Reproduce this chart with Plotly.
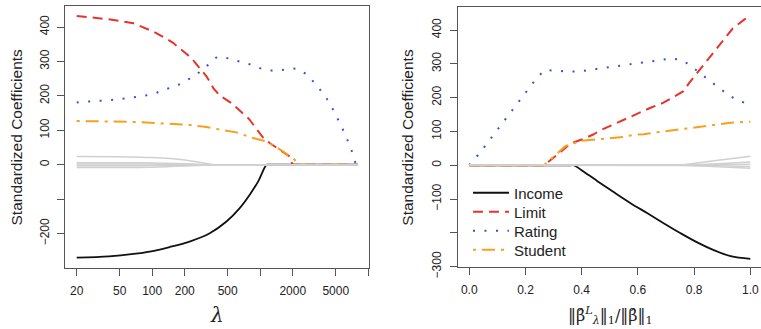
import plotly.graph_objects as go

# ---------------- data ----------------
# Left panel: coefficients vs lambda (log scale)
lam_income = [20, 40, 67, 95, 145, 222, 341, 487, 646, 800, 955, 1143, 1180, 8000]
income_l = [-270, -266, -259, -252, -239, -223, -199, -165, -126, -87, -49, 0, 0, 0]

lam_limit = [20, 41, 67, 85, 102, 135, 156, 200, 231, 279, 318, 371, 422, 541, 632,
             787, 889, 1062, 1224, 1413, 1876, 1990, 8000]
limit_l = [432, 422, 411, 397, 387, 366, 354, 326, 310, 278, 257, 221, 201, 179, 160,
           133, 111, 79, 63, 49, 24, 0, 0]

lam_rating = [20, 26, 32, 41, 52, 67, 87, 111, 141, 177, 222, 271, 329, 398, 504, 641,
              816, 1026, 1306, 1676, 2146, 2655, 3155, 3711, 4278, 4830, 5372, 5976,
              6600, 7190, 7700, 8000]
rating_l = [181, 183, 186, 188, 191, 195, 201, 210, 221, 233, 250, 268, 290, 313, 309, 300,
            291, 279, 273, 276, 280, 264, 239, 212, 185, 155, 126, 95,
            63, 32, 0, 0]

lam_student = [20, 40, 77, 105, 156, 215, 306, 422, 602, 830, 1140, 1570, 2089, 2160, 8000]
student_l = [127, 126, 124, 121, 119, 116, 110, 102, 94, 79, 68, 42, 14, 0, 0]

lam_other = [20, 50, 100, 200, 300, 370, 400, 8000]
others_l = [
    [24, 23, 21, 14, 5, 0, 0, 0],
    [6, 6, 5, 3, 1, 0, 0, 0],
    [2, 2, 1.8, 1, 0.3, 0, 0, 0],
    [-3, -3, -2.5, -1.5, -0.5, 0, 0, 0],
    [-8, -8, -7, -4, -1.5, 0, 0, 0],
]

# Right panel: coefficients vs ||beta_lambda||_1 / ||beta||_1
s_income = [0, 0.36, 0.373, 0.397, 0.456, 0.515, 0.574, 0.634, 0.693, 0.752, 0.811, 0.870, 0.930, 1.0]
income_r = [0, 0, 0, -13, -47, -80, -112, -142, -172, -201, -228, -251, -269, -277]

s_limit = [0, 0.266, 0.314, 0.361, 0.403, 0.441, 0.468, 0.503, 0.539, 0.568, 0.612, 0.645,
           0.691, 0.719, 0.762, 0.782, 0.811, 0.833, 0.862, 0.885, 0.915, 0.938, 0.977, 1.0]
limit_r = [0, 0, 32, 65, 77, 91, 104, 117, 130, 142, 157, 170,
           185, 198, 219, 243, 273, 298, 328, 353, 384, 405, 430, 444]

s_rating = [0, 0.038, 0.089, 0.139, 0.191, 0.24, 0.269, 0.31, 0.353, 0.394, 0.436, 0.477,
            0.517, 0.559, 0.599, 0.642, 0.682, 0.722, 0.760, 0.795, 0.826, 0.860, 0.893,
            0.926, 0.963, 1.0]
rating_r = [0, 37, 93, 148, 203, 258, 282, 280, 277, 278, 283, 286,
            292, 297, 301, 306, 311, 316, 310, 290, 269, 247, 226,
            205, 190, 179]

s_student = [0, 0.266, 0.302, 0.343, 0.397, 0.468, 0.509, 0.548, 0.586, 0.621, 0.663, 0.704,
             0.737, 0.775, 0.816, 0.848, 0.887, 0.930, 0.963, 1.0]
student_r = [0, 0, 27, 57, 72, 77, 80, 84, 90, 92, 97, 102,
             105, 109, 113, 116, 121, 126, 128, 129]

s_other = [0, 0.75, 0.85, 0.95, 1.0]
others_r = [
    [0, 0, 11, 22, 27],
    [0, 0, 3, 8, 10],
    [0, 0, 1, 2, 3],
    [0, 0, -1, -3, -4],
    [0, 0, -3, -7, -9],
]

# ticks
lam_tickvals = [20, 50, 100, 200, 500, 1000, 2000, 5000, 10000]
lam_ticktext = ["20", "50", "100", "200", "500", "", "2000", "5000", ""]
s_tickvals = [0, 0.2, 0.4, 0.6, 0.8, 1.0]
s_ticktext = ["0.0", "0.2", "0.4", "0.6", "0.8", "1.0"]
yl_tickvals = [-200, -100, 0, 100, 200, 300, 400]
yl_ticktext = ["\u2212200", "", "0", "100", "200", "300", "400"]
yr_tickvals = [-300, -200, -100, 0, 100, 200, 300, 400]
yr_ticktext = ["\u2212300", "", "\u2212100", "0", "100", "200", "300", "400"]

series_names = ["Income", "Limit", "Rating", "Student"]

# ---------------- styles ----------------
FONT = "Liberation Sans, Arial, Helvetica, sans-serif"
SERIF = "DejaVu Serif, Liberation Serif, serif"
AX = "#555555"
TXT = "#222222"
W, H = 761, 329

styles = {
    "Income": dict(color="#111111", dash="solid", width=1.8),
    "Limit": dict(color="#E5352B", dash="10px,6px", width=2),
    "Rating": dict(color="#3B50D0", dash="2px,9.5px", width=2),
    "Student": dict(color="#F5A01E", dash="3px,6px,13px,6px", width=2),
}
smooth = {"Income": "spline", "Limit": "linear", "Rating": "linear", "Student": "linear"}
GRAY = dict(color="#D0D0D0", width=1.5)

fig = go.Figure()

left = {"Income": (lam_income, income_l), "Limit": (lam_limit, limit_l),
        "Rating": (lam_rating, rating_l), "Student": (lam_student, student_l)}
right = {"Income": (s_income, income_r), "Limit": (s_limit, limit_r),
         "Rating": (s_rating, rating_r), "Student": (s_student, student_r)}

for nm in series_names:
    x, y = left[nm]
    fig.add_trace(go.Scatter(x=x, y=y, mode="lines", line=dict(styles[nm], shape=smooth[nm]),
                             name=nm, xaxis="x", yaxis="y", showlegend=False, hoverinfo="skip"))
for vals in others_l:
    fig.add_trace(go.Scatter(x=lam_other, y=vals, mode="lines", line=dict(GRAY, shape="spline"),
                             xaxis="x", yaxis="y", showlegend=False, hoverinfo="skip"))
legend_ids = ["legend", "legend2", "legend3", "legend4"]
for nm, lg in zip(series_names, legend_ids):
    x, y = right[nm]
    fig.add_trace(go.Scatter(x=x, y=y, mode="lines", line=dict(styles[nm], shape=smooth[nm]),
                             name=nm, xaxis="x2", yaxis="y2", showlegend=True, legend=lg,
                             hoverinfo="skip"))
for vals in others_r:
    fig.add_trace(go.Scatter(x=s_other, y=vals, mode="lines", line=GRAY,
                             xaxis="x2", yaxis="y2", showlegend=False, hoverinfo="skip"))


def px_x(p):
    return p / W


def px_y(p):
    return (H - p) / H


common = dict(showgrid=False, zeroline=False, showline=True, linecolor=AX, linewidth=1,
              ticks="outside", ticklen=7, tickcolor=AX, tickwidth=1, automargin=False,
              tickfont=dict(family=FONT, size=12, color=TXT))

legend_style = dict(xanchor="left", yanchor="middle", bgcolor="rgba(0,0,0,0)", borderwidth=0,
                    font=dict(family=FONT, size=15, color=TXT), itemwidth=36)
legend_rows = [193, 212, 231, 250]

layout_legends = {}
for lg, row in zip(legend_ids, legend_rows):
    layout_legends[lg] = dict(legend_style, x=px_x(468), y=px_y(row))

fig.update_layout(
    width=W, height=H,
    margin=dict(l=0, r=0, t=0, b=0, autoexpand=False),
    paper_bgcolor="white", plot_bgcolor="white",
    font=dict(family=FONT, color=TXT),
    xaxis=dict(common, domain=[px_x(64.7), px_x(369)], type="log", range=[1.190, 4.007],
               tickmode="array", tickvals=lam_tickvals, ticktext=lam_ticktext,
               mirror=True, anchor="y", ticklabelstandoff=5),
    yaxis=dict(common, domain=[px_y(267.7), px_y(6)], range=[-299, 461],
               tickmode="array", tickvals=yl_tickvals, ticktext=yl_ticktext,
               tickangle=-90, mirror=True, anchor="x", ticklabelstandoff=3),
    xaxis2=dict(common, domain=[px_x(458.3), 1.0], range=[-0.039, 1.038],
                tickmode="array", tickvals=s_tickvals, ticktext=s_ticktext,
                mirror=True, anchor="y2", ticklabelstandoff=5),
    yaxis2=dict(common, domain=[px_y(266.7), px_y(6.7)], range=[-300, 469],
                tickmode="array", tickvals=yr_tickvals, ticktext=yr_ticktext,
                tickangle=-90, mirror=False, anchor="x2", ticklabelstandoff=5),
    annotations=[
        dict(text="Standardized Coefficients", x=px_x(15.5), y=px_y(137), xref="paper",
             yref="paper", textangle=-90, showarrow=False,
             font=dict(family=FONT, size=15.5, color=TXT), xanchor="center", yanchor="middle"),
        dict(text="Standardized Coefficients", x=px_x(406.7), y=px_y(137), xref="paper",
             yref="paper", textangle=-90, showarrow=False,
             font=dict(family=FONT, size=15.5, color=TXT), xanchor="center", yanchor="middle"),
        dict(text="<i>\u03bb</i>", x=px_x(216.5), y=px_y(315), xref="paper", yref="paper",
             showarrow=False, font=dict(family=SERIF, size=20, color=TXT),
             xanchor="center", yanchor="middle"),
        dict(text="\u2016\u03b2\u0302<sup><i>L</i></sup><sub><i>\u03bb</i></sub>\u2016<sub>1</sub>/\u2016\u03b2\u0302\u2016<sub>1</sub>",
             x=px_x(610), y=px_y(315), xref="paper", yref="paper",
             showarrow=False, font=dict(family=SERIF, size=16, color=TXT),
             xanchor="center", yanchor="middle"),
    ],
    **layout_legends,
)

fig.write_html(
    "out.html",
    config={"displayModeBar": False, "staticPlot": True},
    post_script="document.body.style.margin='0px';document.body.style.padding='0px';"
                "document.documentElement.style.overflow='hidden';",
)
